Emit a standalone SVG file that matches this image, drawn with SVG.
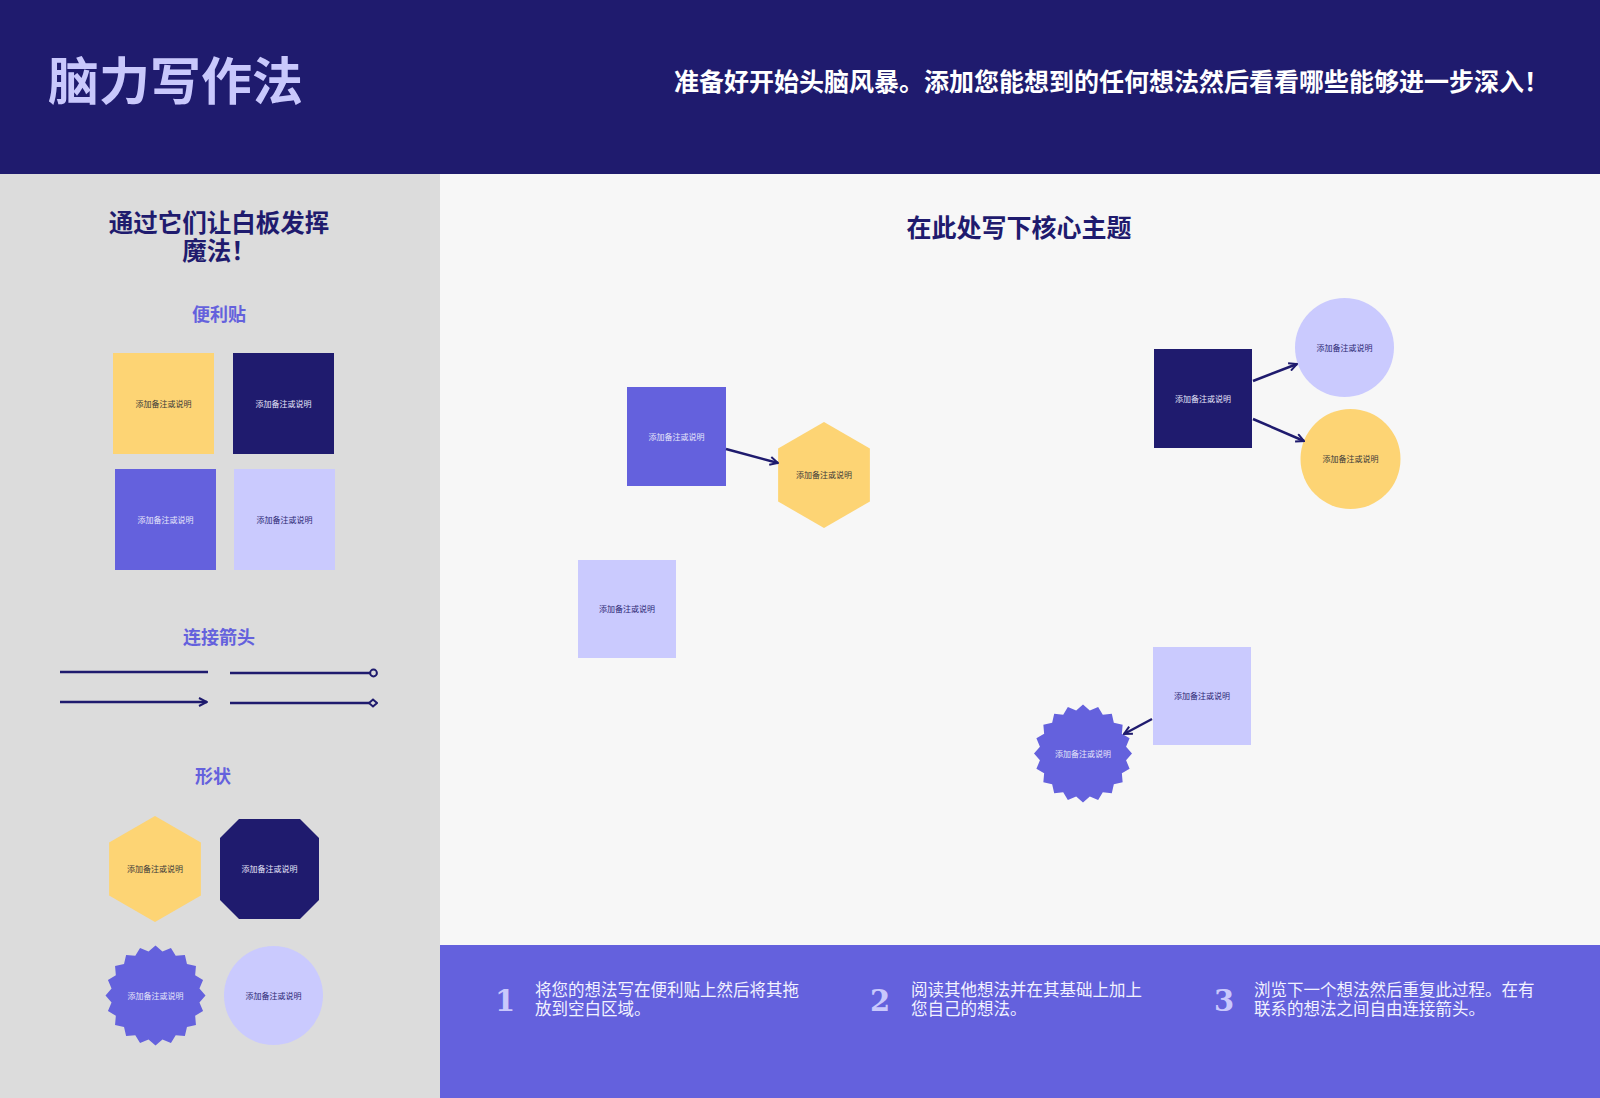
<svg xmlns="http://www.w3.org/2000/svg" width="1600" height="1098" viewBox="0 0 1600 1098">
<style>
.cjk{font-family:"Noto Sans CJK SC","Noto Sans",sans-serif}
.b{font-weight:700}
.lbl{font-family:"Noto Sans CJK SC","Noto Sans",sans-serif;font-size:8px;text-anchor:middle}
.dk{fill:#3A3838}
.lt{fill:#E6E6FA}
.nv{fill:#2A2773}
.line{stroke:#1F1B6E;stroke-width:2.5;fill:none}
.sec{font-family:"Noto Sans CJK SC","Noto Sans",sans-serif;font-weight:700;font-size:18px;fill:#6461DD;text-anchor:middle}
.step{font-family:"Noto Sans CJK SC","Noto Sans",sans-serif;font-size:16.5px;fill:#F2F2FF}
.num{font-family:"DejaVu Serif","Liberation Serif",serif;font-weight:700;font-size:29px;fill:#C9C8FC}
</style>
<defs>
<marker id="arr" viewBox="0 0 10 10" refX="9" refY="5" markerWidth="10" markerHeight="10" markerUnits="userSpaceOnUse" orient="auto">
<path d="M1,1 L9,5 L1,9" fill="none" stroke="#1F1B6E" stroke-width="2"/>
</marker>
<marker id="circ" viewBox="0 0 10 10" refX="2" refY="5" markerWidth="10" markerHeight="10" markerUnits="userSpaceOnUse" orient="auto">
<circle cx="5.5" cy="5" r="3.4" fill="#DCDCDC" stroke="#1F1B6E" stroke-width="2"/>
</marker>
<marker id="dia" viewBox="0 0 10 10" refX="1.5" refY="5" markerWidth="10" markerHeight="10" markerUnits="userSpaceOnUse" orient="auto">
<path d="M1.5,5 L5.5,1.5 L9.5,5 L5.5,8.5 Z" fill="#DCDCDC" stroke="#1F1B6E" stroke-width="2"/>
</marker>
<path id="hex" d="M0,-53 L45.9,-26.5 L45.9,26.5 L0,53 L-45.9,26.5 L-45.9,-26.5 Z"/>
<path id="star" d="M0,-50 L6.96,-43.95 L15.45,-47.55 L20.2,-39.65 L29.39,-40.45 L31.47,-31.47 L40.45,-29.39 L39.65,-20.2 L47.55,-15.45 L43.95,-6.96 L50,0 L43.95,6.96 L47.55,15.45 L39.65,20.2 L40.45,29.39 L31.47,31.47 L29.39,40.45 L20.2,39.65 L15.45,47.55 L6.96,43.95 L0,50 L-6.96,43.95 L-15.45,47.55 L-20.2,39.65 L-29.39,40.45 L-31.47,31.47 L-40.45,29.39 L-39.65,20.2 L-47.55,15.45 L-43.95,6.96 L-50,0 L-43.95,-6.96 L-47.55,-15.45 L-39.65,-20.2 L-40.45,-29.39 L-31.47,-31.47 L-29.39,-40.45 L-20.2,-39.65 L-15.45,-47.55 L-6.96,-43.95 Z"/>
</defs>

<!-- backgrounds -->
<rect x="0" y="0" width="1600" height="1098" fill="#F7F7F7"/>
<rect x="0" y="0" width="1600" height="174" fill="#1F1B6E"/>
<rect x="0" y="174" width="440" height="924" fill="#DCDCDC"/>
<rect x="440" y="945" width="1160" height="153" fill="#6461DD"/>

<!-- header -->
<g id="header">
<text class="cjk b" x="48" y="100" font-size="51" fill="#C9C8FC">脑力写作法</text>
<text class="cjk b" x="674" y="91" font-size="25" fill="#FFFFFF">准备好开始头脑风暴。添加您能想到的任何想法然后看看哪些能够进一步深入！</text>
</g>

<!-- left panel -->
<g id="panel-title">
<text class="cjk b" font-size="24.5" fill="#1F1B6E" text-anchor="middle"><tspan x="219" y="232">通过它们让白板发挥</tspan><tspan x="219" y="259.5">魔法！</tspan></text>
</g>
<text class="sec" x="219" y="321">便利贴</text>
<g id="sticky-yellow"><rect x="113" y="353" width="101" height="101" fill="#FDD474"/><text class="lbl dk" x="163.5" y="406.5">添加备注或说明</text></g>
<g id="sticky-navy"><rect x="233" y="353" width="101" height="101" fill="#1F1B6E"/><text class="lbl lt" x="283.5" y="406.5">添加备注或说明</text></g>
<g id="sticky-purple"><rect x="115" y="469" width="101" height="101" fill="#6461DD"/><text class="lbl lt" x="165.5" y="522.5">添加备注或说明</text></g>
<g id="sticky-lavender"><rect x="234" y="469" width="101" height="101" fill="#CACAFE"/><text class="lbl nv" x="284.5" y="522.5">添加备注或说明</text></g>

<text class="sec" x="219" y="644">连接箭头</text>
<g id="legend-lines">
<line class="line" x1="60" y1="672" x2="208" y2="672"/>
<line class="line" x1="230" y1="673" x2="370" y2="673" marker-end="url(#circ)"/>
<line class="line" x1="60" y1="702" x2="207" y2="702" marker-end="url(#arr)"/>
<line class="line" x1="230" y1="703" x2="369" y2="703" marker-end="url(#dia)"/>
</g>

<text class="sec" x="213" y="783">形状</text>
<g id="shape-hex"><use href="#hex" transform="translate(155,869)" fill="#FDD474"/><text class="lbl dk" x="155" y="872">添加备注或说明</text></g>
<g id="shape-oct"><path d="M239,819 L300,819 L319,838 L319,900 L300,919 L239,919 L220,900 L220,838 Z" fill="#1F1B6E"/><text class="lbl lt" x="269.5" y="872">添加备注或说明</text></g>
<g id="shape-star"><use href="#star" transform="translate(155.5,995.5)" fill="#6461DD"/><text class="lbl lt" x="155.5" y="998.5">添加备注或说明</text></g>
<g id="shape-circle"><circle cx="273.5" cy="995.5" r="49.5" fill="#CACAFE"/><text class="lbl nv" x="273.5" y="998.5">添加备注或说明</text></g>

<!-- main canvas -->
<text class="cjk b" x="1019" y="237" font-size="25" fill="#1F1B6E" text-anchor="middle">在此处写下核心主题</text>

<g id="n1"><rect x="627" y="387" width="99" height="99" fill="#6461DD"/><text class="lbl lt" x="676.5" y="439.5">添加备注或说明</text></g>
<g id="n2"><use href="#hex" transform="translate(824,475)" fill="#FDD474"/><text class="lbl dk" x="824" y="478">添加备注或说明</text></g>
<g id="n3"><rect x="578" y="560" width="98" height="98" fill="#CACAFE"/><text class="lbl nv" x="627" y="612">添加备注或说明</text></g>
<g id="n4"><rect x="1154" y="349" width="98" height="99" fill="#1F1B6E"/><text class="lbl lt" x="1203" y="401.5">添加备注或说明</text></g>
<g id="n5"><circle cx="1344.5" cy="347.5" r="49.5" fill="#CACAFE"/><text class="lbl nv" x="1344.5" y="350.5">添加备注或说明</text></g>
<g id="n6"><circle cx="1350.5" cy="459" r="50" fill="#FDD474"/><text class="lbl dk" x="1350.5" y="462">添加备注或说明</text></g>
<g id="n7"><rect x="1153" y="647" width="98" height="98" fill="#CACAFE"/><text class="lbl nv" x="1202" y="699">添加备注或说明</text></g>
<g id="n8"><use href="#star" transform="translate(1083,753.5) scale(0.98)" fill="#6461DD"/><text class="lbl lt" x="1083" y="756.5">添加备注或说明</text></g>

<g id="connectors">
<line class="line" x1="726" y1="449" x2="778" y2="463" marker-end="url(#arr)"/>
<line class="line" x1="1253" y1="381" x2="1297" y2="364" marker-end="url(#arr)"/>
<line class="line" x1="1253" y1="419" x2="1304" y2="441" marker-end="url(#arr)"/>
<line class="line" x1="1152" y1="719" x2="1124" y2="734" marker-end="url(#arr)"/>
</g>

<!-- bottom steps -->
<g id="step1">
<text class="num" x="495" y="1011">1</text>
<text class="step"><tspan x="535" y="996">将您的想法写在便利贴上然后将其拖</tspan><tspan x="535" y="1015">放到空白区域。</tspan></text>
</g>
<g id="step2">
<text class="num" x="870" y="1011">2</text>
<text class="step"><tspan x="911" y="996">阅读其他想法并在其基础上加上</tspan><tspan x="911" y="1015">您自己的想法。</tspan></text>
</g>
<g id="step3">
<text class="num" x="1214" y="1011">3</text>
<text class="step"><tspan x="1254" y="996">浏览下一个想法然后重复此过程。在有</tspan><tspan x="1254" y="1015">联系的想法之间自由连接箭头。</tspan></text>
</g>
</svg>
